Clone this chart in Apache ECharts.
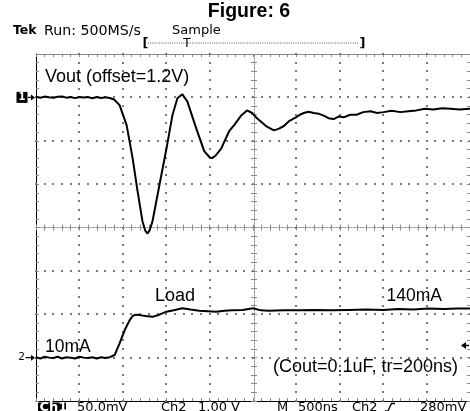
<!DOCTYPE html>
<html>
<head>
<meta charset="utf-8">
<script src="https://cdn.jsdelivr.net/npm/echarts@6/dist/echarts.min.js"></script>
<style>
  html, body { margin: 0; padding: 0; background: #fff; }
  #c { width: 470px; height: 411px; }
</style>
</head>
<body>
<div id="c"></div>
<script>
// Horizontal: 500 ns/div over 10 divisions
const timeMin = 0, timeMax = 5000, timeStep = 500;
// Vertical: 8 divisions centred on 0
const divMin = -4, divMax = 4;

// Ch1: Vout deviation from the 1.2 V offset (mV), 50 mV/div
const voutTime = [0, 50, 100, 150, 200, 250, 300, 350, 400, 450, 500, 550, 600, 650, 700, 750, 800, 850,
  900, 963, 1044, 1113, 1170, 1227, 1260, 1285, 1310, 1342, 1422, 1503, 1571, 1629, 1686, 1743, 1847,
  1938, 2000, 2030, 2070, 2133, 2225, 2283, 2363, 2432, 2490, 2546, 2650, 2741, 2800, 2856, 2920, 2994,
  3040, 3085, 3140, 3200, 3260, 3315, 3370, 3430, 3490, 3544, 3620, 3693, 3770, 3854, 3930, 4003, 4100,
  4198, 4290, 4382, 4480, 4577, 4680, 4772, 4880, 5000];
const voutMV = [0.6, -0.4, 0.9, 0.1, -0.5, 0.7, 1.1, -0.3, 0.4, -0.9, 0.5, -0.2, 0.3, -1.1, 0.4, -0.6, 0.2, -0.7,
  -2.5, -8.9, -32, -70, -108, -143, -154, -157, -153, -143, -101, -59, -21, -1, 3.5, -4.6, -36,
  -62, -69, -70, -67, -59, -39, -32, -21, -15, -18, -24, -33, -38, -36, -33, -27, -23,
  -20, -18, -16.5, -18, -19, -21, -24, -25, -22, -23, -20, -20, -17, -16, -18, -17, -15.5,
  -17, -16, -15, -13, -14, -12.5, -13, -14, -13];

// Ch2: load-step signal (V), 1.00 V/div
const loadTime = [0, 50, 100, 150, 200, 250, 300, 350, 400, 450, 500, 550, 600, 650, 700, 750, 800, 850,
  906, 963, 1021, 1078, 1113, 1150, 1193, 1260, 1342, 1420, 1503, 1600, 1686, 1780, 1881, 1980, 2076,
  2170, 2260, 2380, 2500, 2590, 2684, 2850, 3028, 3200, 3400, 3602, 3800, 4000, 4175, 4350, 4519,
  4700, 4850, 5000];
const loadV = [0.01, -0.02, 0.02, 0.0, -0.01, 0.02, -0.02, 0.01, 0.0, -0.02, 0.02, 0.0, -0.01, 0.01, -0.02, 0.01, -0.01, 0.01,
  0.06, 0.33, 0.63, 0.86, 0.96, 0.99, 0.98, 0.96, 0.94, 0.99, 1.06, 1.1, 1.14, 1.11, 1.08, 1.07, 1.06,
  1.08, 1.09, 1.1, 1.14, 1.09, 1.08, 1.09, 1.09, 1.1, 1.09, 1.1, 1.11, 1.1, 1.12, 1.11, 1.13,
  1.12, 1.13, 1.13];

// Channel scales and reference levels (in divisions from centre)
const ch1MvPerDiv = 50;
const ch2VPerDiv = 1.0;
const ch1RefDiv = 3;
const ch2RefDiv = -3;
const triggerLevelV = 0.28;

const GRID_GRAY = '#8a8a8a';
const DOT_GRAY = '#777777';
const SCOPE_FONT = 'DejaVu Sans';
const NOTE_FONT = 'Liberation Sans';
const MINOR_PER_DIV = 5;

const ch1Data = voutTime.map((t, i) => [t, ch1RefDiv + voutMV[i] / ch1MvPerDiv]);
const ch2Data = loadTime.map((t, i) => [t, ch2RefDiv + loadV[i] / ch2VPerDiv]);

function frameAxis(dim, position, offset, tickInside, lineStyle) {
  const isX = dim === 'x';
  return {
    type: 'value',
    min: isX ? timeMin : divMin,
    max: isX ? timeMax : divMax,
    interval: isX ? timeStep : 1,
    position: position,
    offset: offset,
    axisLabel: { show: false },
    axisLine: { show: true, onZero: false, lineStyle: lineStyle },
    axisTick: { show: true, inside: tickInside, length: 3, lineStyle: { color: GRID_GRAY, width: 1 } },
    minorTick: { show: true, splitNumber: MINOR_PER_DIV, length: 3, lineStyle: { color: GRID_GRAY, width: 1 } },
    splitLine: { show: false },
    minorSplitLine: { show: false }
  };
}

const chart = echarts.init(document.getElementById('c'), null, { renderer: 'canvas' });

const option = {
  animation: false,
  backgroundColor: '#ffffff',
  grid: { left: 36, top: 54, width: 436, height: 347, containLabel: false },
  xAxis: [
    frameAxis('x', 'bottom', 0, true, { color: '#000', width: 1 }),
    frameAxis('x', 'top', 0, true, { color: GRID_GRAY, width: 1 }),
    frameAxis('x', 'bottom', -173.5, true, { color: GRID_GRAY, width: 1, type: [1, 2] }),
    frameAxis('x', 'bottom', -173.5, false, { color: GRID_GRAY, width: 1, type: [1, 2] })
  ],
  yAxis: [
    frameAxis('y', 'left', 0, true, { color: '#000', width: 1 }),
    frameAxis('y', 'right', 0, true, { color: GRID_GRAY, width: 1 }),
    frameAxis('y', 'left', -218, true, { color: GRID_GRAY, width: 1, type: [1, 2] }),
    frameAxis('y', 'left', -218, false, { color: GRID_GRAY, width: 1, type: [1, 2] })
  ],
  series: [
    {
      name: 'Vout', type: 'line', xAxisIndex: 0, yAxisIndex: 0, data: ch1Data,
      showSymbol: false, smooth: false, z: 5,
      lineStyle: { color: '#000', width: 2 }
    },
    {
      name: 'Load', type: 'line', xAxisIndex: 0, yAxisIndex: 0, data: ch2Data,
      showSymbol: false, smooth: false, z: 5,
      lineStyle: { color: '#000', width: 2 }
    }
  ]
};

chart.setOption(option);

const px = (t) => chart.convertToPixel({ xAxisIndex: 0 }, t);
const py = (d) => chart.convertToPixel({ yAxisIndex: 0 }, d);

// Dotted graticule: one dot per minor division on each division line
const graticule = [];
const centreT = (timeMin + timeMax) / 2;
for (let t = timeMin + timeStep; t < timeMax; t += timeStep) {
  if (t === centreT) continue;
  const x = Math.round(px(t));
  for (let k = 0; k <= (divMax - divMin) * MINOR_PER_DIV; k++) {
    const y = Math.round(py(divMin + k / MINOR_PER_DIV));
    graticule.push({ type: 'rect', z: 2, silent: true, shape: { x: x - 1, y: y - 1, width: 2, height: 2 }, style: { fill: DOT_GRAY } });
  }
}
for (let d = divMin + 1; d < divMax; d++) {
  if (d === 0) continue;
  const y = Math.round(py(d));
  for (let k = 0; k <= (timeMax - timeMin) / timeStep * MINOR_PER_DIV; k++) {
    const x = Math.round(px(timeMin + k * timeStep / MINOR_PER_DIV));
    graticule.push({ type: 'rect', z: 2, silent: true, shape: { x: x - 1, y: y - 1, width: 2, height: 2 }, style: { fill: DOT_GRAY } });
  }
}

// Channel reference markers and trigger level marker, placed from the axis scale
const ch1Y = py(ch1RefDiv);
const ch2Y = py(ch2RefDiv);
const trigY = py(ch2RefDiv + triggerLevelV / ch2VPerDiv);
const leftX = px(timeMin);

function txt(x, y, text, size, opts) {
  opts = opts || {};
  return {
    type: 'text', x: x, y: y, z: 20,
    style: {
      text: text,
      fontFamily: opts.family || SCOPE_FONT,
      fontSize: size,
      fontWeight: opts.weight || 'normal',
      fill: opts.fill || '#000',
      align: opts.align || 'left',
      verticalAlign: 'middle'
    }
  };
}

function arrow(x0, x1, y) {
  return [
    { type: 'line', z: 20, shape: { x1: x0, y1: y, x2: x1 - 3, y2: y }, style: { stroke: '#000', lineWidth: 1.2 } },
    { type: 'polygon', z: 20, shape: { points: [[x1 - 4, y - 3], [x1, y], [x1 - 4, y + 3]] }, style: { fill: '#000' } }
  ];
}

const bottomY = 407.5;
const labels = [
  // header
  txt(249, 11.5, 'Figure: 6', 19.5, { family: NOTE_FONT, weight: 'bold', align: 'center' }),
  txt(13, 31, 'Tek', 12.5, { weight: 'bold' }),
  txt(44, 31, 'Run: 500MS/s', 14.2),
  txt(172, 31, 'Sample', 13),
  txt(142.5, 43.5, '[', 13, { weight: 'bold' }),
  { type: 'line', z: 20, shape: { x1: 148, y1: 43, x2: 359, y2: 43 }, style: { stroke: '#555', lineWidth: 1, lineDash: [1, 1.2] } },
  txt(187, 43.5, 'T', 12, { align: 'center' }),
  txt(359.5, 43.5, ']', 13, { weight: 'bold' }),

  // annotations on the screen
  txt(45, 77.5, 'Vout (offset=1.2V)', 18, { family: NOTE_FONT }),
  txt(155, 296.5, 'Load', 18, { family: NOTE_FONT }),
  txt(386.5, 296.5, '140mA', 17.5, { family: NOTE_FONT }),
  txt(45, 347.5, '10mA', 17.5, { family: NOTE_FONT }),
  txt(273, 367.5, '(Cout=0.1uF, tr=200ns)', 18, { family: NOTE_FONT }),

  // channel 1 marker
  { type: 'rect', z: 20, shape: { x: 16.5, y: ch1Y - 5.5, width: 11, height: 11 }, style: { fill: '#000' } },
  txt(22, ch1Y, '1', 10, { weight: 'bold', fill: '#fff', align: 'center' }),
  ...arrow(28, leftX - 1, ch1Y),

  // channel 2 marker
  txt(21.5, ch2Y, '2', 10.5, { align: 'center' }),
  ...arrow(25.5, leftX - 1, ch2Y),

  // trigger level marker at the right edge
  { type: 'polygon', z: 20, shape: { points: [[461, trigY], [466, trigY - 3.5], [466, trigY + 3.5]] }, style: { fill: '#000' } },
  { type: 'line', z: 20, shape: { x1: 465, y1: trigY, x2: 469, y2: trigY }, style: { stroke: '#000', lineWidth: 1.5 } },

  // readout line
  { type: 'rect', z: 20, shape: { x: 38, y: 402.5, width: 28, height: 12 }, style: { fill: '#000' } },
  txt(39.5, bottomY, 'Ch1', 13, { fill: '#fff', weight: 'bold' }),
  txt(77, bottomY, '50.0mV', 13),
  txt(161, bottomY, 'Ch2', 13),
  txt(198, bottomY, '1.00 V', 13),
  txt(277, bottomY, 'M', 13),
  txt(298, bottomY, '500ns', 13),
  txt(352, bottomY, 'Ch2', 13),
  { type: 'polyline', z: 20, shape: { points: [[385, 411], [388, 411], [391.5, 403.5], [395, 403.5]] }, style: { stroke: '#000', lineWidth: 1.3, fill: null } },
  txt(420, bottomY, '280mV', 13)
];

chart.setOption({ graphic: graticule.concat(labels) });
</script>
</body>
</html>
